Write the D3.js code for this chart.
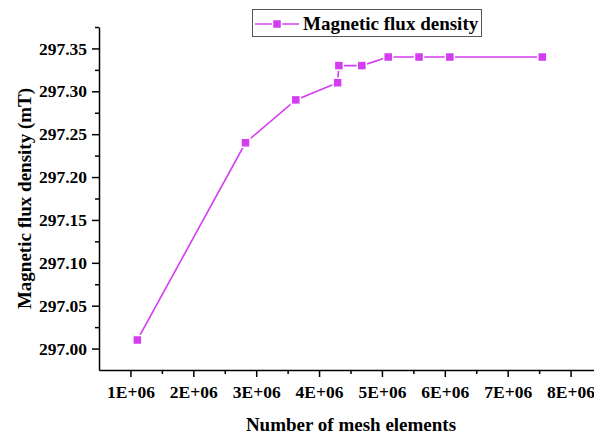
<!DOCTYPE html>
<html>
<head>
<meta charset="utf-8">
<script src="https://cdn.jsdelivr.net/npm/d3@7"></script>
<style>
    body { margin: 0; background: #fff; }
    svg { display: block; }
    text { font-family: "Liberation Serif", "Times New Roman", serif; font-weight: bold; fill: #000; }
</style>
</head>
<body>
<div id="chart"></div>
<script>
// values
var meshElements = [1.11e6, 2.83e6, 3.63e6, 4.295e6, 4.315e6, 4.68e6, 5.1e6, 5.59e6, 6.08e6, 7.55e6];
var fluxDensity = [297.01, 297.24, 297.29, 297.31, 297.33, 297.33, 297.34, 297.34, 297.34, 297.34];

var xMajorTicks = [1e6, 2e6, 3e6, 4e6, 5e6, 6e6, 7e6, 8e6];
var xMinorTicks = [1.5e6, 2.5e6, 3.5e6, 4.5e6, 5.5e6, 6.5e6, 7.5e6];
var yMajorTicks = [297.00, 297.05, 297.10, 297.15, 297.20, 297.25, 297.30, 297.35];
var yMinorTicks = [297.025, 297.075, 297.125, 297.175, 297.225, 297.275, 297.325, 297.375];

var seriesName = "Magnetic flux density";
var lineColor = "#d43cf2";

var width = 594, height = 434;

var svg = d3.select("#chart")
    .append("svg")
    .attr("width", width)
    .attr("height", height);

var x = d3.scaleLinear()
    .domain([0.5e6, 8.5e6])
    .range([99, 602]);

var y = d3.scaleLinear()
    .domain([296.975, 297.375])
    .range([370, 27]);

// minor ticks first, then the labelled axes
svg.append("g")
    .attr("transform", "translate(0,370)")
    .call(d3.axisBottom(x).tickValues(xMinorTicks).tickSize(4).tickFormat(""))
    .call(function (g) { g.select(".domain").remove(); });

svg.append("g")
    .attr("transform", "translate(99,0)")
    .call(d3.axisLeft(y).tickValues(yMinorTicks).tickSize(4).tickFormat(""))
    .call(function (g) { g.select(".domain").remove(); });

var xAxis = svg.append("g")
    .attr("class", "x-axis")
    .attr("transform", "translate(0,370)")
    .call(d3.axisBottom(x)
        .tickValues(xMajorTicks)
        .tickSize(7)
        .tickSizeOuter(0)
        .tickPadding(9)
        .tickFormat(function (d) { return (d / 1e6) + "E+06"; }));

var yAxis = svg.append("g")
    .attr("class", "y-axis")
    .attr("transform", "translate(99,0)")
    .call(d3.axisLeft(y)
        .tickValues(yMajorTicks)
        .tickSize(7)
        .tickSizeOuter(0)
        .tickPadding(5)
        .tickFormat(d3.format(".2f")));

svg.selectAll(".tick text")
    .style("font-size", "17.5px")
    .style("font-family", "'Liberation Serif', serif")
    .style("font-weight", "bold");

svg.selectAll(".domain, .tick line")
    .attr("stroke", "#000")
    .attr("stroke-width", 1.5);

// axis titles
svg.append("text")
    .attr("x", 351)
    .attr("y", 431)
    .attr("text-anchor", "middle")
    .style("font-size", "19px")
    .text("Number of mesh elements");

svg.append("text")
    .attr("transform", "translate(31," + ((27 + 370) / 2 + 0) + ") rotate(-90)")
    .attr("text-anchor", "middle")
    .style("font-size", "19px")
    .text("Magnetic flux density (mT)");

// the series
var line = d3.line()
    .x(function (d, i) { return x(meshElements[i]); })
    .y(function (d) { return y(d); });

svg.append("path")
    .datum(fluxDensity)
    .attr("fill", "none")
    .attr("stroke", lineColor)
    .attr("stroke-width", 1.6)
    .attr("d", line);

svg.selectAll("rect.pt")
    .data(fluxDensity)
    .enter()
    .append("rect")
    .attr("class", "pt")
    .attr("x", function (d, i) { return x(meshElements[i]) - 4.5; })
    .attr("y", function (d) { return y(d) - 4.5; })
    .attr("width", 9)
    .attr("height", 9)
    .attr("fill", lineColor)
    .attr("stroke", "#fff")
    .attr("stroke-width", 1.5);

// legend
var legend = svg.append("g");

legend.append("rect")
    .attr("x", 252.5)
    .attr("y", 9.5)
    .attr("width", 229)
    .attr("height", 27)
    .attr("fill", "#fff")
    .attr("stroke", "#555")
    .attr("stroke-width", 1);

legend.append("line")
    .attr("x1", 255)
    .attr("x2", 299)
    .attr("y1", 24)
    .attr("y2", 24)
    .attr("stroke", lineColor)
    .attr("stroke-width", 1.6);

legend.append("rect")
    .attr("x", 277 - 4.5)
    .attr("y", 24 - 4.5)
    .attr("width", 9)
    .attr("height", 9)
    .attr("fill", lineColor)
    .attr("stroke", "#fff")
    .attr("stroke-width", 1.5);

legend.append("text")
    .attr("x", 303)
    .attr("y", 29.5)
    .style("font-size", "19px")
    .text(seriesName);
</script>
</body>
</html>
